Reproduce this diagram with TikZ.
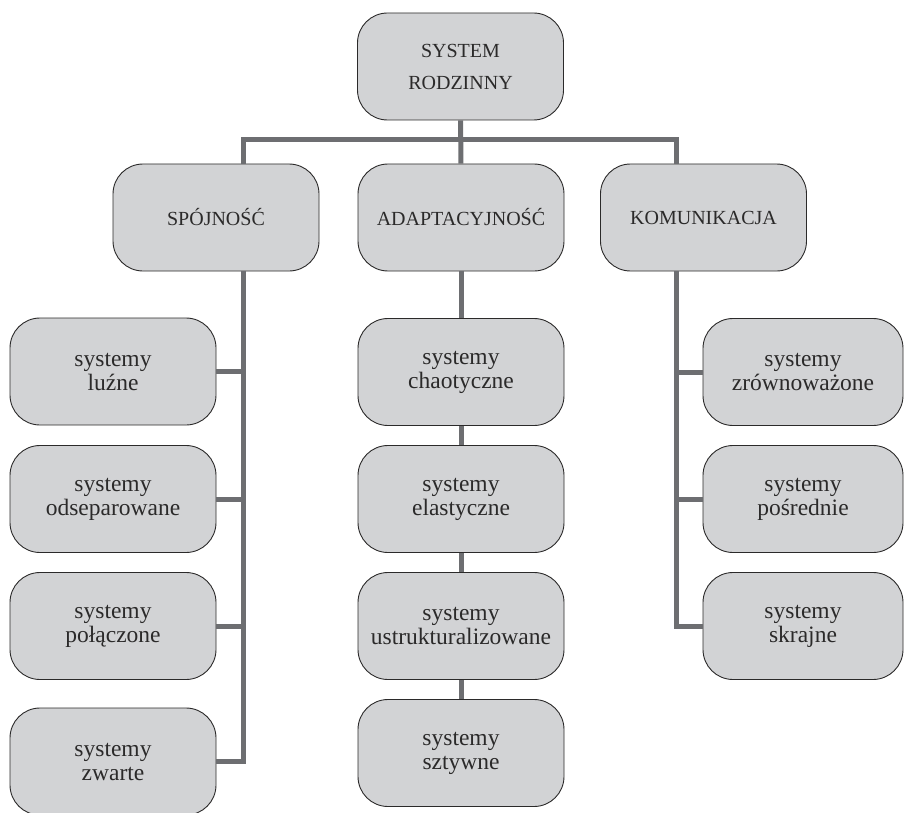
\documentclass[tikz,border=0pt]{standalone}
\usepackage{fontspec}
\setmainfont{Liberation Serif}
\definecolor{boxgray}{HTML}{D2D3D5}
\definecolor{boxline}{HTML}{2B2A2A}
\definecolor{linkgray}{HTML}{6D6E71}
\tikzset{
  sysbox/.style={draw=boxline, fill=boxgray, line width=0.9pt, rounded corners=30pt,
    minimum width=206pt, minimum height=107pt, inner sep=0pt, align=center,
    font=\fontsize{23.5}{24}\selectfont, text=boxline},
  capbox/.style={sysbox, font=\fontsize{20}{32}\selectfont},
  link/.style={draw=linkgray, line width=5pt}
}
\begin{document}
\begin{tikzpicture}[x=1pt, y=-1pt]
  \useasboundingbox (0,0) rectangle (904,813);
  \node [capbox] (sysrodz) at (460.5, 66.5) {SYSTEM\\RODZINNY};
  \node [capbox] (spojnosc) at (216, 217.5) {SPÓJNOŚĆ};
  \node [capbox] (adapt) at (461, 217.5) {ADAPTACYJNOŚĆ};
  \node [capbox] (komunik) at (703.5, 217.5) {KOMUNIKACJA};
  \node [sysbox] (luzne) at (113, 371.5) {systemy\\luźne};
  \node [sysbox] (odsep) at (113, 499) {systemy\\odseparowane};
  \node [sysbox] (polacz) at (113, 626) {systemy\\połączone};
  \node [sysbox] (zwarte) at (113, 761.5) {systemy\\zwarte};
  \node [sysbox] (chaot) at (461, 372) {systemy\\chaotyczne};
  \node [sysbox] (elast) at (461, 499) {systemy\\elastyczne};
  \node [sysbox] (ustruk) at (461, 626) {systemy\\ustrukturalizowane};
  \node [sysbox] (sztywne) at (461, 753) {systemy\\sztywne};
  \node [sysbox, minimum width=200pt] (zrown) at (803, 372) {systemy\\zrównoważone};
  \node [sysbox, minimum width=200pt] (posred) at (803, 499) {systemy\\pośrednie};
  \node [sysbox, minimum width=200pt] (skrajne) at (803, 626) {systemy\\skrajne};
  \coordinate (lbus) at (243, 140);
  \coordinate (rbus) at (676.5, 140);
  \draw [link] (sysrodz) -- (adapt);
  \draw [link] (lbus |- spojnosc.north) -- (lbus) -- (rbus) -- (rbus |- komunik.north);
  \draw [link] (lbus |- spojnosc.south) |- (zwarte.east);
  \draw [link] (luzne.east) -- (luzne.east -| lbus);
  \draw [link] (odsep.east) -- (odsep.east -| lbus);
  \draw [link] (polacz.east) -- (polacz.east -| lbus);
  \draw [link] (adapt) -- (chaot);
  \draw [link] (chaot) -- (elast);
  \draw [link] (elast) -- (ustruk);
  \draw [link] (ustruk) -- (sztywne);
  \draw [link] (rbus |- komunik.south) |- (skrajne.west);
  \draw [link] (zrown.west) -- (zrown.west -| rbus);
  \draw [link] (posred.west) -- (posred.west -| rbus);
\end{tikzpicture}
\end{document}
